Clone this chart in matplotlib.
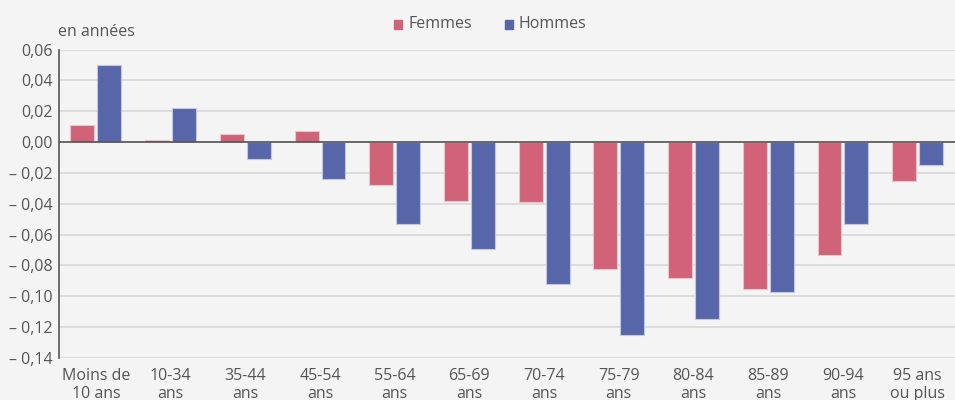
import numpy as np
import matplotlib.pyplot as plt
from matplotlib.patches import Rectangle

plt.rcParams['font.family'] = ['Open Sans', 'DejaVu Sans']

# data (en années)
categories = ["Moins de\n10 ans", "10-34\nans", "35-44\nans", "45-54\nans", "55-64\nans",
              "65-69\nans", "70-74\nans", "75-79\nans", "80-84\nans", "85-89\nans",
              "90-94\nans", "95 ans\nou plus"]
femmes = [0.011, 0.0012, 0.005, 0.007, -0.028, -0.038, -0.039, -0.082, -0.088, -0.095, -0.073, -0.025]
hommes = [0.050, 0.022, -0.011, -0.024, -0.053, -0.069, -0.092, -0.125, -0.115, -0.097, -0.053, -0.015]
yticks = [0.06, 0.04, 0.02, 0.0, -0.02, -0.04, -0.06, -0.08, -0.10, -0.12, -0.14]

bg = "#f4f4f4"
c_f = "#d06377"
c_h = "#5766a8"
txt = "#555555"
fs = 11.5

fig = plt.figure(figsize=(9.55, 4.0), dpi=100, facecolor=bg)
ax = fig.add_axes([0.0613, 0.105, 0.9387, 0.771])
ax.set_facecolor(bg)

x = np.arange(len(categories))
w = 0.32
off = 0.18
ax.bar(x - off, femmes, w, color=c_f, edgecolor="#e8c4cb", linewidth=0.8, zorder=3, label="Femmes")
ax.bar(x + off, hommes, w, color=c_h, edgecolor="#c3c8e0", linewidth=0.8, zorder=3, label="Hommes")

ax.set_xlim(-0.5, len(categories) - 0.5)
ax.set_ylim(-0.14, 0.06)
ax.set_yticks(yticks)

def fmt(v):
    s = f"{abs(v):.2f}".replace(".", ",")
    return ("\u2013 " + s) if v < -1e-9 else s

ax.set_yticklabels([fmt(v) for v in yticks], color=txt, fontsize=fs)
ax.set_xticks(x)
ax.set_xticklabels(categories, color=txt, fontsize=fs, linespacing=1.15)
ax.tick_params(axis="y", length=0, pad=4)
ax.tick_params(axis="x", length=0, pad=7)

ax.grid(axis="y", color="#d8d8d8", linewidth=1.2, zorder=0)
ax.axhline(0, color="#555555", linewidth=1.2, zorder=4)
for s in ["top", "right", "bottom"]:
    ax.spines[s].set_visible(False)
ax.spines["left"].set_color("#555555")
ax.spines["left"].set_linewidth(1.2)

fig.text(58 / 955, 1 - 32 / 400, "en années", color=txt, fontsize=fs, va="center", ha="left")

# legend at top centre
fig.patches.append(Rectangle((394 / 955, 1 - 28.5 / 400), 8 / 955, 8 / 400,
                             transform=fig.transFigure, color=c_f))
fig.text(408 / 955, 1 - 24 / 400, "Femmes", color=txt, fontsize=fs, va="center")
fig.patches.append(Rectangle((505 / 955, 1 - 28.5 / 400), 8 / 955, 8 / 400,
                             transform=fig.transFigure, color=c_h))
fig.text(518 / 955, 1 - 24 / 400, "Hommes", color=txt, fontsize=fs, va="center")

fig.savefig("out.png", dpi=100, facecolor=bg)
